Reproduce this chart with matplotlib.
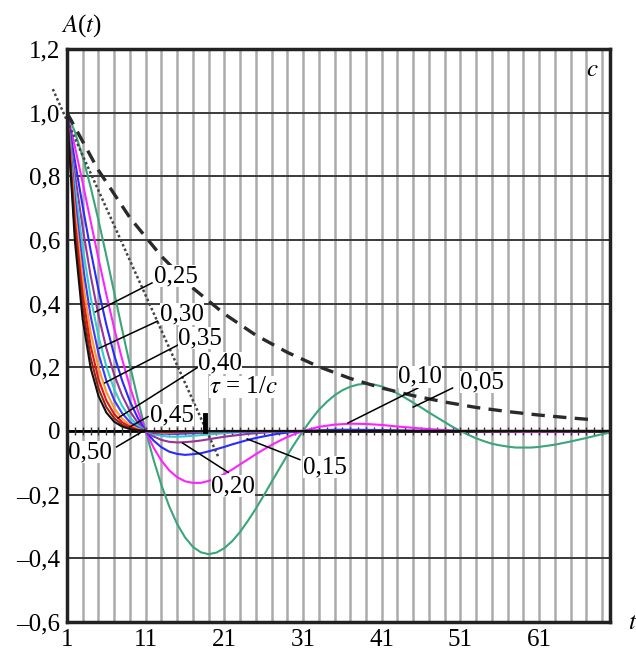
import numpy as np
import matplotlib
matplotlib.use('Agg')
import matplotlib.pyplot as plt

plt.rcParams['font.family'] = ['Liberation Serif', 'DejaVu Serif']
plt.rcParams['mathtext.fontset'] = 'stix'

# curves A(t) for c = 0.05 ... 0.50
t_c05 = [1, 2, 3, 4, 5, 6, 7, 8, 9, 10, 11, 12, 13, 14, 15, 16, 17, 18, 19, 20,
         21, 22, 23, 24, 25, 26, 27, 28, 29, 30, 31, 32, 33, 34, 35, 36, 37, 38, 39, 40,
         41, 42, 43, 44, 45, 46, 47, 48, 49, 50, 51, 52, 53, 54, 55, 56, 57, 58, 59, 60,
         61, 63, 65, 67, 69, 70]
a_c05 = [1.0, 0.940, 0.861, 0.767, 0.662, 0.551, 0.435, 0.320, 0.207, 0.100, 0.0,
         -0.090, -0.170, -0.237, -0.292, -0.334, -0.364, -0.381, -0.387, -0.382, -0.368,
         -0.346, -0.317, -0.282, -0.244, -0.203, -0.160, -0.118, -0.076, -0.037, 0.0,
         0.035, 0.066, 0.091, 0.112, 0.128, 0.139, 0.146, 0.148, 0.146, 0.140,
         0.130, 0.118, 0.104, 0.089, 0.074, 0.058, 0.043, 0.028, 0.013, 0.0,
         -0.012, -0.023, -0.032, -0.040, -0.045, -0.049, -0.052, -0.052, -0.052, -0.050,
         -0.043, -0.033, -0.022, -0.010, -0.005]

t_c10 = [1, 2, 3, 4, 5, 6, 7, 8, 9, 10, 11, 12, 13, 14, 15, 16, 17, 18, 19, 20,
         21, 22, 23, 24, 25, 26, 27, 28, 29, 30, 31, 33, 35, 37, 39, 41, 43, 45, 47, 49,
         51, 60, 70]
a_c10 = [1.0, 0.894, 0.779, 0.660, 0.542, 0.429, 0.323, 0.226, 0.139, 0.064, 0.0,
         -0.052, -0.093, -0.124, -0.145, -0.158, -0.163, -0.163, -0.157, -0.148, -0.135,
         -0.121, -0.105, -0.089, -0.073, -0.058, -0.044, -0.031, -0.019, -0.009, 0.0,
         0.013, 0.020, 0.023, 0.022, 0.019, 0.014, 0.010, 0.006, 0.003, 0.0,
         -0.002, 0.0]

t_c15 = [1, 2, 3, 4, 5, 6, 7, 8, 9, 10, 11, 12, 13, 14, 15, 16, 17, 18, 19, 20,
         21, 22, 23, 24, 25, 26, 27, 28, 29, 30, 31, 35, 37, 41, 45, 51, 70]
a_c15 = [1.0, 0.850, 0.705, 0.568, 0.444, 0.334, 0.239, 0.159, 0.093, 0.041, 0.0,
         -0.030, -0.051, -0.065, -0.072, -0.075, -0.073, -0.070, -0.064, -0.057, -0.050,
         -0.042, -0.035, -0.028, -0.022, -0.017, -0.012, -0.008, -0.005, -0.002, 0.0,
         0.004, 0.004, 0.003, 0.001, 0.0, 0.0]

t_c20 = [1, 2, 3, 4, 5, 6, 7, 8, 9, 10, 11, 12, 13, 14, 15, 16, 17, 18, 19, 20,
         21, 22, 23, 24, 25, 26, 27, 29, 31, 70]
a_c20 = [1.0, 0.809, 0.638, 0.489, 0.364, 0.260, 0.177, 0.112, 0.062, 0.026, 0.0,
         -0.017, -0.028, -0.034, -0.036, -0.035, -0.033, -0.030, -0.026, -0.022, -0.018,
         -0.015, -0.012, -0.009, -0.007, -0.005, -0.003, -0.001, 0.0, 0.0]

t_c25 = [1, 2, 3, 4, 5, 6, 7, 8, 9, 10, 11, 12, 13, 14, 15, 16, 17, 18, 19, 20,
         21, 23, 25, 27, 31, 70]
a_c25 = [1.0, 0.769, 0.577, 0.421, 0.298, 0.203, 0.131, 0.079, 0.042, 0.017, 0.0,
         -0.010, -0.015, -0.018, -0.018, -0.017, -0.015, -0.013, -0.011, -0.009, -0.007,
         -0.004, -0.002, -0.001, 0.0, 0.0]

t_c30 = [1, 2, 3, 4, 5, 6, 7, 8, 9, 10, 11, 12, 13, 14, 15, 16, 17, 19, 21, 25, 31, 70]
a_c30 = [1.0, 0.732, 0.522, 0.362, 0.244, 0.158, 0.097, 0.056, 0.028, 0.011, 0.0,
         -0.006, -0.008, -0.009, -0.009, -0.008, -0.007, -0.004, -0.003, -0.001, 0.0, 0.0]

t_c35 = [1, 2, 3, 4, 5, 6, 7, 8, 9, 10, 11, 12, 13, 14, 15, 17, 19, 23, 31, 70]
a_c35 = [1.0, 0.696, 0.472, 0.312, 0.200, 0.123, 0.072, 0.039, 0.019, 0.007, 0.0,
         -0.003, -0.005, -0.005, -0.004, -0.003, -0.002, 0.0, 0.0, 0.0]

t_c40 = [1, 2, 3, 4, 5, 6, 7, 8, 9, 10, 11, 12, 13, 14, 15, 17, 21, 31, 70]
a_c40 = [1.0, 0.662, 0.427, 0.268, 0.163, 0.096, 0.053, 0.028, 0.013, 0.004, 0.0,
         -0.002, -0.003, -0.003, -0.002, -0.001, 0.0, 0.0, 0.0]

t_c45 = [1, 2, 3, 4, 5, 6, 7, 8, 9, 10, 11, 12, 13, 15, 17, 21, 70]
a_c45 = [1.0, 0.630, 0.387, 0.231, 0.134, 0.075, 0.040, 0.020, 0.008, 0.003, 0.0,
         -0.001, -0.001, -0.001, -0.001, 0.0, 0.0]

t_c50 = [1, 2, 3, 4, 5, 6, 7, 8, 9, 10, 11, 12, 13, 15, 21, 70]
a_c50 = [1.0, 0.599, 0.350, 0.199, 0.110, 0.058, 0.029, 0.014, 0.006, 0.002, 0.0,
         -0.001, -0.001, -0.001, 0.0, 0.0]

# envelope (dashed) and tangent (dotted)
t_env = [1, 5, 9, 13, 17, 21, 25, 29, 33, 37, 41, 45, 49, 53, 57, 61, 65, 68]
a_env = [1.0, 0.819, 0.670, 0.549, 0.449, 0.368, 0.301, 0.247, 0.202, 0.165,
         0.135, 0.111, 0.091, 0.074, 0.061, 0.050, 0.041, 0.035]
t_tan = [-0.8, 20.3]
a_tan = [1.074, -0.085]
tau = 18.6

curves = [
    (t_c05, a_c05, '#3aa57a'),
    (t_c10, a_c10, '#ff22ff'),
    (t_c15, a_c15, '#2a2aff'),
    (t_c20, a_c20, '#993399'),
    (t_c25, a_c25, '#33cccc'),
    (t_c30, a_c30, '#3a3aff'),
    (t_c35, a_c35, '#ff9a2a'),
    (t_c40, a_c40, '#ee1111'),
    (t_c45, a_c45, '#8b2a10'),
    (t_c50, a_c50, '#111111'),
]

# curve labels: text, text position, line start, line end
labels = [
    ('0,25', (14.85, 0.487), (11.8, 0.465), (4.6, 0.374)),
    ('0,30', (15.6, 0.367), (12.5, 0.345), (5.1, 0.260)),
    ('0,35', (17.9, 0.292), (15.1, 0.270), (5.8, 0.151)),
    ('0,40', (20.4, 0.213), (17.5, 0.198), (7.5, 0.041)),
    ('0,45', (14.3, 0.050), (11.3, 0.045), (9.0, 0.013)),
    ('0,50', (3.9, -0.066), (7.3, -0.050), (10.9, 0.003)),
    ('0,20', (22.1, -0.173), (21.5, -0.130), (15.7, -0.038)),
    ('0,15', (33.8, -0.113), (30.6, -0.090), (23.9, -0.025)),
    ('0,10', (45.9, 0.170), (45.6, 0.135), (36.7, 0.025)),
    ('0,05', (53.7, 0.154), (50.0, 0.135), (45.0, 0.075)),
]

y_ticks = [-0.6, -0.4, -0.2, 0, 0.2, 0.4, 0.6, 0.8, 1.0, 1.2]
y_tick_labels = ['\u20130,6', '\u20130,4', '\u20130,2', '0', '0,2', '0,4', '0,6', '0,8', '1,0', '1,2']
x_ticks = [1, 11, 21, 31, 41, 51, 61]

fig = plt.figure(figsize=(6.36, 6.55), dpi=100)
ax = fig.add_axes([0.1053, 0.0504, 0.8537, 0.8748])

ax.set_xlim(1, 70)
ax.set_ylim(-0.6, 1.2)

# grid
for x in np.arange(3, 70, 2):
    ax.axvline(x, color='#ababab', lw=1.8, zorder=1)
for y in y_ticks:
    ax.axhline(y, color='#3a3a3a', lw=1.4, zorder=1.5)
ax.axhline(0, color='black', lw=2.0, zorder=2)
ax.plot(np.arange(2, 70), np.zeros(68), '|', color='#333333', ms=6, mew=1.0, zorder=2)

for tt, aa, col in curves:
    ax.plot(tt, aa, color=col, lw=1.5, zorder=3)

ax.plot(t_env, a_env, color='#2a2a2a', lw=2.4, dashes=(4, 2.5), zorder=4)
ax.plot(t_tan, a_tan, color='#444444', lw=1.8, linestyle=(0, (1, 1)), clip_on=False, zorder=4)
ax.plot([tau, tau], [0, 0.05], color='black', lw=3.5, zorder=5)

for txt, pos, p0, p1 in labels:
    ax.plot([p0[0], p1[0]], [p0[1], p1[1]], color='black', lw=1.1, zorder=6)
    ax.text(pos[0], pos[1], txt, fontsize=18, ha='center', va='center', zorder=7,
            bbox=dict(facecolor='white', edgecolor='none', pad=0))

ax.text(23.4, 0.138, r'$\tau$ = 1/$c$', fontsize=18, ha='center', va='center', zorder=7,
        bbox=dict(facecolor='white', edgecolor='none', pad=0))
ax.text(67.8, 1.133, r'$c$', fontsize=18, ha='center', va='center', zorder=7)

ax.set_yticks(y_ticks)
ax.set_yticklabels(y_tick_labels)
ax.set_xticks(x_ticks)
ax.set_xticklabels([str(v) for v in x_ticks])
ax.tick_params(length=0, labelsize=18, pad=5)

for s in ax.spines.values():
    s.set_linewidth(2.5)
    s.set_color('#222222')
    s.set_zorder(8)

ax.text(2.9, 1.272, r'$A$($t$)', fontsize=18, ha='center', va='center', clip_on=False)
ax.text(72.9, -0.603, r'$t$', fontsize=18, ha='center', va='center', clip_on=False)

fig.savefig('out.png', dpi=100)
